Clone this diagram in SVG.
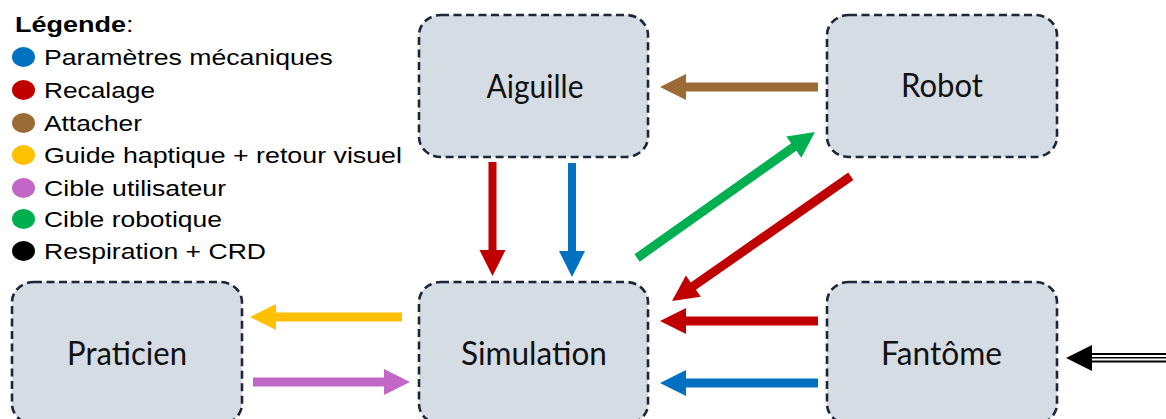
<svg xmlns="http://www.w3.org/2000/svg" width="1166" height="419" viewBox="0 0 1166 419">
<style>
.box{fill:#D6DCE4;stroke:#1E2538;stroke-width:2.6;stroke-dasharray:8 4.5}
.lbl{font-family:Lato,"Open Sans",sans-serif;font-size:32px;fill:#111;text-anchor:middle}
.leg{font-family:"Liberation Sans",Arial,sans-serif;font-size:22.5px;fill:#000}
.red{fill:#C00000}.blue{fill:#0070C0}.brown{fill:#9C6A35}.yellow{fill:#FFC000}.purple{fill:#C266C8}.green{fill:#00B050}.black{fill:#000}
</style>
<rect width="1166" height="419" fill="#fff"/>

<g id="legend">
<ellipse class="blue" cx="23.5" cy="57" rx="11.5" ry="10"/>
<ellipse class="red" cx="23.5" cy="90" rx="11.5" ry="10"/>
<ellipse class="brown" cx="23.5" cy="123" rx="11.5" ry="10"/>
<ellipse class="yellow" cx="23.5" cy="155" rx="11.5" ry="10"/>
<ellipse class="purple" cx="23.5" cy="188" rx="11.5" ry="10"/>
<ellipse class="green" cx="23.5" cy="219" rx="11.5" ry="10"/>
<ellipse class="black" cx="23.5" cy="251" rx="11.5" ry="10"/>
<g transform="scale(1.2,1)">
<text class="leg" x="12.5" y="32" font-size="21.5"><tspan font-weight="bold">Légende</tspan>:</text>
<text class="leg" x="36.67" y="65.5" textLength="240.8" lengthAdjust="spacingAndGlyphs">Paramètres mécaniques</text>
<text class="leg" x="36.67" y="98.5" textLength="92.5" lengthAdjust="spacingAndGlyphs">Recalage</text>
<text class="leg" x="36.67" y="131.5" textLength="81.7" lengthAdjust="spacingAndGlyphs">Attacher</text>
<text class="leg" x="36.67" y="163.5" textLength="298.3" lengthAdjust="spacingAndGlyphs">Guide haptique + retour visuel</text>
<text class="leg" x="36.67" y="196.5" textLength="151.7" lengthAdjust="spacingAndGlyphs">Cible utilisateur</text>
<text class="leg" x="36.67" y="227.5" textLength="148.3" lengthAdjust="spacingAndGlyphs">Cible robotique</text>
<text class="leg" x="36.67" y="259.5" textLength="185" lengthAdjust="spacingAndGlyphs">Respiration + CRD</text>
</g>
</g>

<g id="node-aiguille">
<rect class="box" x="419" y="15" width="229" height="142" rx="22" ry="20"/>
<text class="lbl" x="535" y="98" textLength="97" lengthAdjust="spacingAndGlyphs">Aiguille</text>
</g>
<g id="node-robot">
<rect class="box" x="827" y="15" width="230" height="142" rx="22" ry="20"/>
<text class="lbl" x="942" y="97" textLength="82" lengthAdjust="spacingAndGlyphs">Robot</text>
</g>
<g id="node-praticien">
<rect class="box" x="12" y="282" width="230" height="142" rx="22" ry="20"/>
<text class="lbl" x="127" y="365" textLength="120" lengthAdjust="spacingAndGlyphs">Praticien</text>
</g>
<g id="node-simulation">
<rect class="box" x="419" y="282" width="229" height="142" rx="22" ry="20"/>
<text class="lbl" x="534" y="365" textLength="146" lengthAdjust="spacingAndGlyphs">Simulation</text>
</g>
<g id="node-fantome">
<rect class="box" x="827" y="282" width="230" height="142" rx="22" ry="20"/>
<text class="lbl" x="941.5" y="365" textLength="121" lengthAdjust="spacingAndGlyphs">Fantôme</text>
</g>

<g id="connectors">
<path class="red" d="M488.5,162 V250 H479.5 L492.5,276 L505.5,250 H496.5 V162 Z"/>
<path class="blue" d="M568,163 V251 H559 L572,277 L585,251 H576 V163 Z"/>
<path class="brown" d="M818,82.5 H686 V74 L660,87 L686,100 V91.5 H818 Z"/>
<path class="yellow" d="M402,312.5 H276 V304 L250,317 L276,330 V321.5 H402 Z"/>
<path class="purple" d="M253,377.5 H384 V369 L410,382 L384,395 V386.5 H253 Z"/>
<path class="red" d="M818,316.5 H686 V308 L660,321 L686,334 V325.5 H818 Z"/>
<path class="blue" d="M818,378.5 H686 V370 L660,383 L686,396 V387.5 H818 Z"/>
<g transform="translate(815,132) rotate(-35.3)">
<path class="green" d="M-218,-4.5 H-26 V-13 L0,0 L-26,13 V4.5 H-218 Z"/>
</g>
<g transform="translate(672,301) rotate(145.1)">
<path class="red" d="M-218,-4.5 H-26 V-13 L0,0 L-26,13 V4.5 H-218 Z"/>
</g>
<g id="resp-arrow">
<rect x="1090" y="353" width="76" height="9.5" fill="#000"/>
<rect x="1090" y="355" width="76" height="5.5" fill="#fff"/>
<rect x="1090" y="357" width="76" height="1.5" fill="#000"/>
<path class="black" d="M1066,358 L1092,345 V371 Z"/>
</g>
</g>
</svg>
